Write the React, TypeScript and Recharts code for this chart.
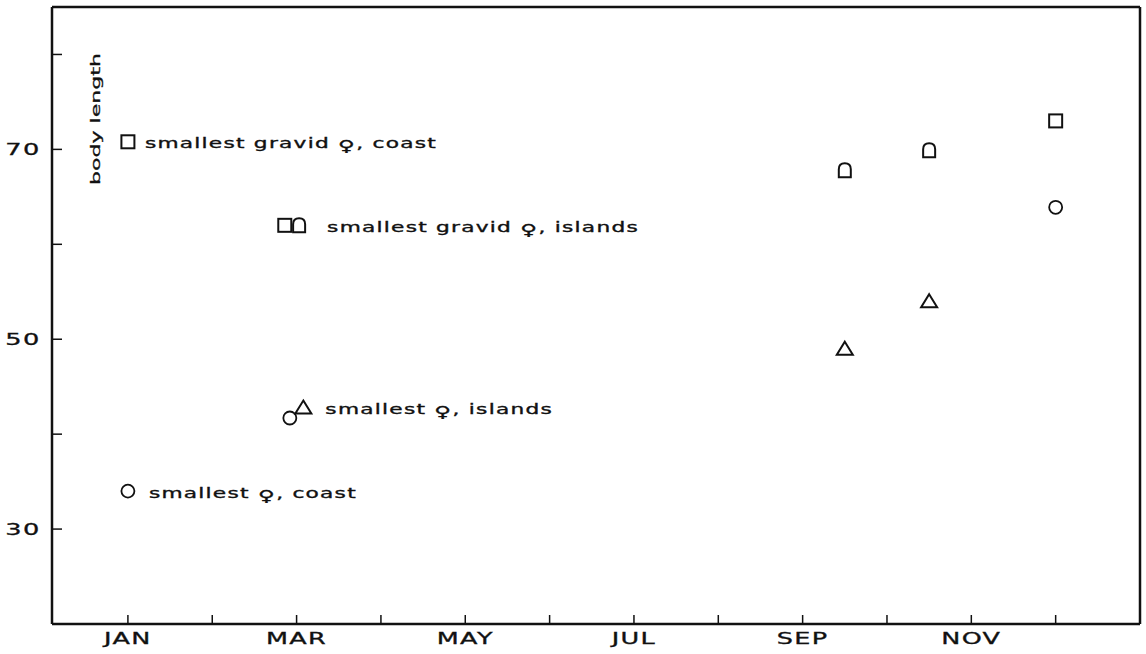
import { ScatterChart, Scatter, XAxis, YAxis, ReferenceLine, Label } from 'recharts';

// month position (JAN = 1) and body length
const squareMonth = [1, 2.86, 12];
const squareLength = [70.8, 62.0, 73.0];
const bellMonth = [3.03, 9.5, 10.5];
const bellLength = [62.0, 67.8, 69.9];
const circleMonth = [1, 2.92, 12];
const circleLength = [34.0, 41.7, 63.9];
const triangleMonth = [3.08, 9.5, 10.5];
const triangleLength = [42.8, 49.0, 54.0];

const monthTicks = [1, 2, 3, 4, 5, 6, 7, 8, 9, 10, 11, 12];
const monthLabels = ['JAN', '', 'MAR', '', 'MAY', '', 'JUL', '', 'SEP', '', 'NOV', ''];
const lengthTicks = [30, 40, 50, 60, 70, 80];
const lengthLabels = ['30', '', '50', '', '70', ''];

// annotation attached to the first point of a series
const annotations: Record<string, string> = {
  square: 'smallest gravid ♀, coast',
  bell: 'smallest gravid ♀, islands',
  triangle: 'smallest ♀, islands',
  circle: 'smallest ♀, coast',
};
const labelDx: Record<string, number> = { square: 17, bell: 28, triangle: 22, circle: 21 };

const INK = '#111';
const FONT = '"DejaVu Sans", sans-serif';

const build = (months: number[], lengths: number[], key: string) =>
  months.map((m, i) => ({ month: m, length: lengths[i], label: i === 0 ? annotations[key] : undefined }));

const AnnotText = ({ x, y, text }: { x: number; y: number; text: string }) => {
  const [before, after] = text.split('♀');
  return (
    <text
      transform={`translate(${x},${y}) scale(1.55,1)`}
      fontFamily={FONT}
      fontSize={14}
      letterSpacing={0.8}
      fill={INK}
      stroke={INK}
      strokeWidth={0.35}
    >
      {before}
      <tspan dy={3} fontSize={15}>♀</tspan>
      <tspan dy={-3}>{after}</tspan>
    </text>
  );
};

const makeShape = (key: string, draw: (cx: number, cy: number) => JSX.Element) => (p: any) => {
  const { cx, cy, payload } = p;
  return (
    <g>
      {draw(cx, cy)}
      {payload && payload.label ? <AnnotText x={cx + labelDx[key]} y={cy + 6.5} text={payload.label} /> : null}
    </g>
  );
};

const squareShape = makeShape('square', (cx, cy) => (
  <rect x={cx - 6.5} y={cy - 6.5} width={13} height={13} fill="none" stroke={INK} strokeWidth={2} />
));
const circleShape = makeShape('circle', (cx, cy) => (
  <circle cx={cx} cy={cy} r={6.5} fill="none" stroke={INK} strokeWidth={1.8} />
));
const triangleShape = makeShape('triangle', (cx, cy) => (
  <path
    d={`M${cx},${cy - 7} L${cx + 8},${cy + 6} L${cx - 8},${cy + 6} Z`}
    fill="none"
    stroke={INK}
    strokeWidth={2}
    strokeLinejoin="miter"
  />
));
const bellShape = makeShape('bell', (cx, cy) => (
  <path
    d={`M${cx - 6},${cy + 7} L${cx - 6},${cy - 1} Q${cx - 6},${cy - 7} ${cx},${cy - 7} Q${cx + 6},${cy - 7} ${cx + 6},${cy - 1} L${cx + 6},${cy + 7} Z`}
    fill="none"
    stroke={INK}
    strokeWidth={2}
  />
));

const MonthTick = (p: any) => {
  const idx = monthTicks.indexOf(p.payload.value);
  const txt = idx >= 0 ? monthLabels[idx] : '';
  if (!txt) return <g />;
  return (
    <text
      transform={`translate(${p.x},${p.y}) scale(1.7,1)`}
      textAnchor="middle"
      dy="0.71em"
      fontFamily={FONT}
      fontSize={15}
      letterSpacing={0.8}
      fill={INK}
      stroke={INK}
      strokeWidth={0.3}
    >
      {txt}
    </text>
  );
};

const LengthTick = (p: any) => {
  const idx = lengthTicks.indexOf(p.payload.value);
  const txt = idx >= 0 ? lengthLabels[idx] : '';
  if (!txt) return <g />;
  return (
    <text
      transform={`translate(${p.x},${p.y}) scale(1.6,1)`}
      textAnchor="end"
      dy="0.36em"
      fontFamily={FONT}
      fontSize={16}
      letterSpacing={1}
      fill={INK}
      stroke={INK}
      strokeWidth={0.3}
    >
      {txt}
    </text>
  );
};

const BodyLabel = (p: any) => {
  const vb = p.viewBox || { x: 0, y: 0, width: 0 };
  const x = vb.x + vb.width + 43;
  const y = vb.y + 112;
  return (
    <text
      transform={`translate(${x},${y}) rotate(-90) scale(1.7,1)`}
      textAnchor="middle"
      dy="0.35em"
      fontFamily={FONT}
      fontSize={13}
      fill={INK}
      stroke={INK}
      strokeWidth={0.3}
    >
      body length
    </text>
  );
};

export default function App() {
  return (
    <div style={{ position: 'absolute', left: 0, top: 0, background: '#fff' }}>
      <ScatterChart width={1146} height={654} margin={{ top: 7, right: 6, left: 0, bottom: 0 }}>
        <XAxis
          type="number"
          dataKey="month"
          domain={[0.1, 13]}
          ticks={monthTicks}
          interval={0}
          height={30}
          tickSize={-9}
          tickMargin={18}
          tick={<MonthTick />}
          axisLine={{ stroke: INK, strokeWidth: 2.5 }}
          tickLine={{ stroke: INK, strokeWidth: 1.5 }}
          allowDataOverflow
        />
        <YAxis
          type="number"
          dataKey="length"
          domain={[20, 85]}
          ticks={lengthTicks}
          interval={0}
          width={52}
          tickSize={-10}
          tickMargin={21}
          tick={<LengthTick />}
          axisLine={{ stroke: INK, strokeWidth: 2.5 }}
          tickLine={{ stroke: INK, strokeWidth: 1.5 }}
          allowDataOverflow
          label={<Label content={<BodyLabel />} />}
        />
        <ReferenceLine y={85} stroke={INK} strokeWidth={2.5} />
        <ReferenceLine x={13} stroke={INK} strokeWidth={2.5} />
        <Scatter data={build(squareMonth, squareLength, 'square')} shape={squareShape} isAnimationActive={false} />
        <Scatter data={build(bellMonth, bellLength, 'bell')} shape={bellShape} isAnimationActive={false} />
        <Scatter data={build(circleMonth, circleLength, 'circle')} shape={circleShape} isAnimationActive={false} />
        <Scatter data={build(triangleMonth, triangleLength, 'triangle')} shape={triangleShape} isAnimationActive={false} />
      </ScatterChart>
    </div>
  );
}
